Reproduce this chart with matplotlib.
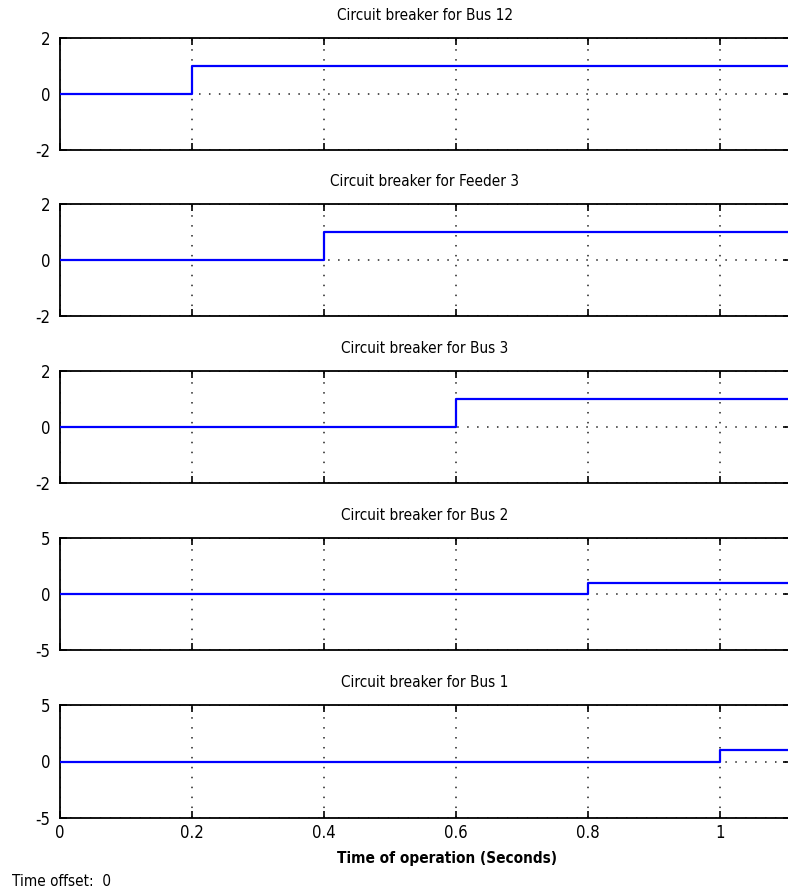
import numpy as np
import matplotlib.pyplot as plt

plt.rcParams['font.family'] = ['DejaVu Sans']
plt.rcParams['font.stretch'] = 'condensed'

titles = ['Circuit breaker for Bus 12', 'Circuit breaker for Feeder 3',
          'Circuit breaker for Bus 3', 'Circuit breaker for Bus 2',
          'Circuit breaker for Bus 1']
trip_times = [0.2, 0.4, 0.6, 0.8, 1.0]
y_limits = [2, 2, 2, 5, 5]
sim_end = 1.2
x_ticks = [0, 0.2, 0.4, 0.6, 0.8, 1]
x_tick_labels = ['0', '0.2', '0.4', '0.6', '0.8', '1']

W, H = 788, 894
fig = plt.figure(figsize=(W / 100, H / 100), dpi=100)

# (top, bottom) of each axes box in pixels
boxes = [(38, 150), (204, 316), (371, 483), (538, 650), (705, 818)]
left_px, right_px = 60, 790
x_max = (right_px - left_px) / 660.0

for i, ax_box in enumerate(boxes):
    top, bottom = ax_box
    ax = fig.add_axes([left_px / W, 1 - bottom / H,
                       (right_px - left_px) / W, (bottom - top) / H])
    t = [0, trip_times[i], sim_end]
    v = [0, 1, 1]
    ax.step(t, v, where='post', color='#0000ff', lw=1.6, zorder=3)
    lim = y_limits[i]
    ax.set_xlim(0, x_max)
    ax.set_ylim(-lim, lim)
    ax.set_xticks(x_ticks)
    ax.set_yticks([-lim, 0, lim])
    ax.set_yticklabels([str(-lim), '0', str(lim)])
    if i == len(boxes) - 1:
        ax.set_xticklabels(x_tick_labels)
        ax.set_xlabel('Time of operation (Seconds)', fontsize=11,
                      fontweight='bold', labelpad=7, x=0.53)
    else:
        ax.set_xticklabels([])
    ax.tick_params(direction='in', length=5, width=1.2, top=True, right=True,
                   labelsize=12)
    ax.tick_params(axis='y', pad=7)
    ax.tick_params(axis='x', pad=4)
    ax.grid(True, linestyle=(0, (1, 5.5)), color='#222222', lw=1.1)
    for s in ax.spines.values():
        s.set_linewidth(1.3)
    ax.set_title(titles[i], fontsize=11, pad=13)

fig.text(12 / W, 1 - 882 / H, 'Time offset:  0', fontsize=11, va='center')

fig.savefig('out.png', dpi=100)
